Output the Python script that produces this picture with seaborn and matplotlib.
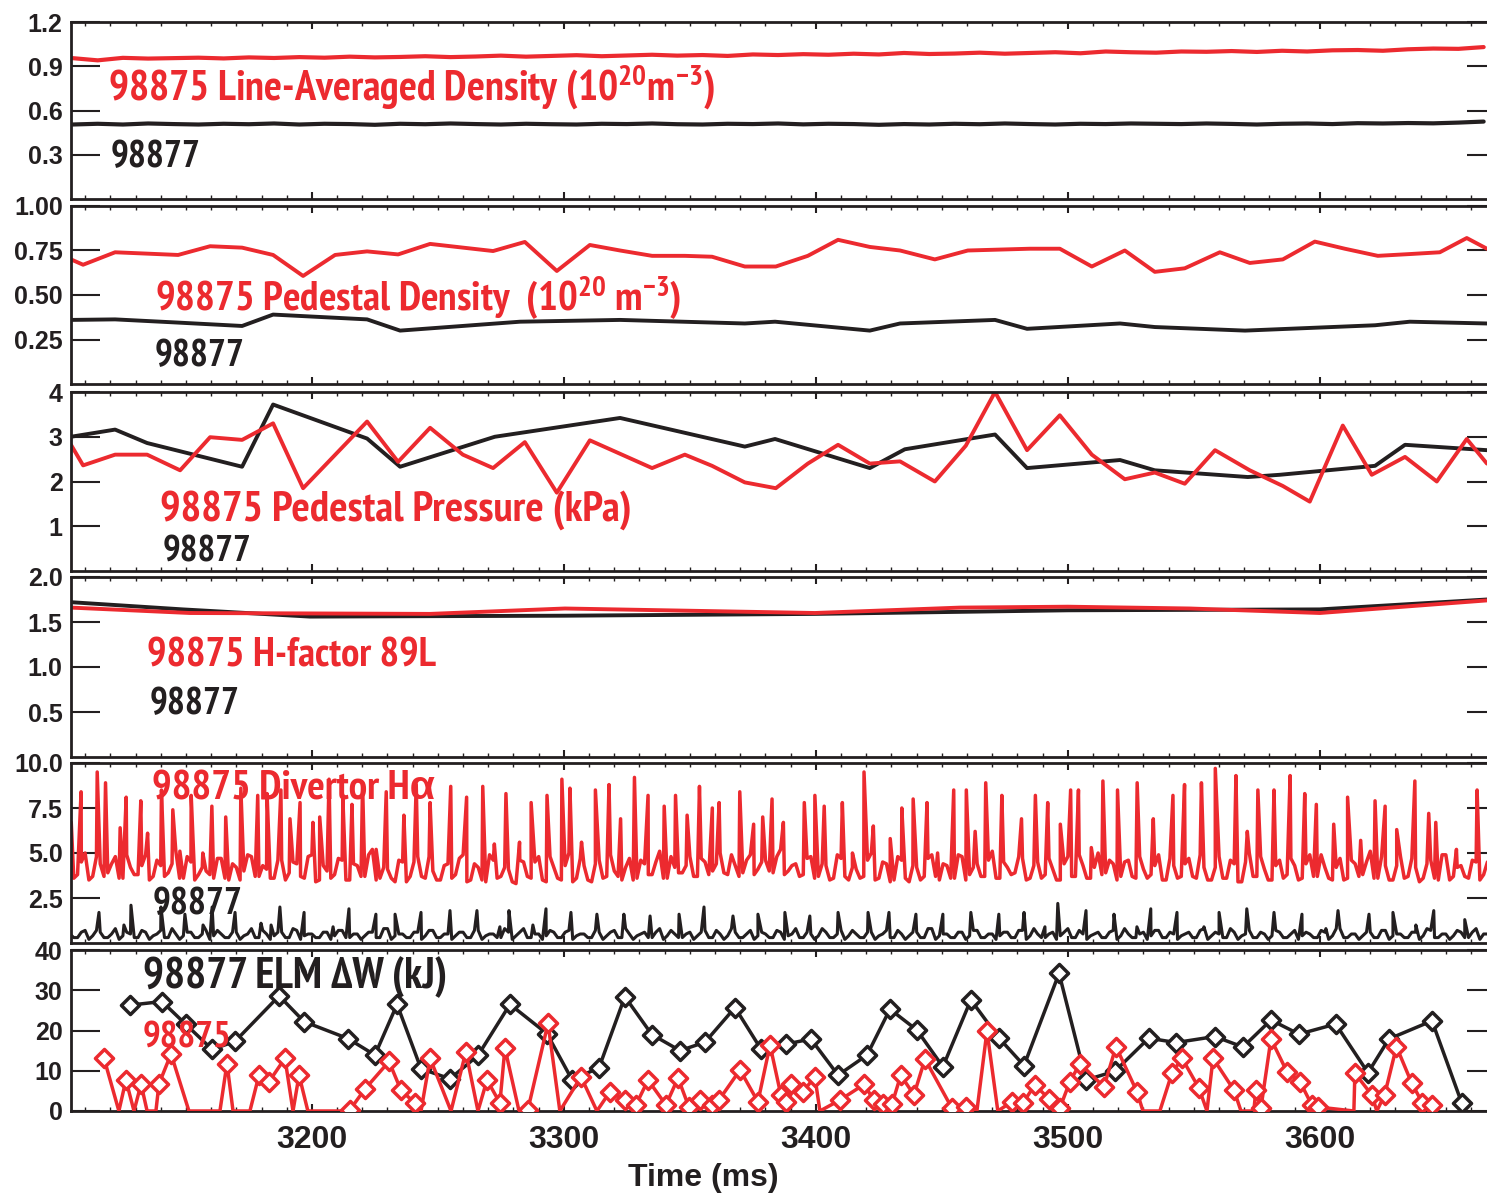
import os
import numpy as np
import matplotlib
matplotlib.use("Agg")
import matplotlib.pyplot as plt
from matplotlib import font_manager as fm
from matplotlib.ticker import MultipleLocator
import seaborn as sns

sns.set_style("white")
TICK_FONT = ["Liberation Sans", "DejaVu Sans"]
plt.rcParams["font.family"] = TICK_FONT
plt.rcParams["mathtext.default"] = "regular"

RED = "#EC2A2F"
BLACK = "#231F20"

# ---------------- Line-averaged density (1e20 m^-3), 10 ms samples
dens_t = np.arange(3105, 3666, 10)
dens_98875 = [0.955, 0.940, 0.957, 0.952, 0.955, 0.958, 0.953, 0.960, 0.956, 0.962,
              0.958, 0.965, 0.960, 0.963, 0.968, 0.962, 0.966, 0.972, 0.965, 0.970,
              0.975, 0.968, 0.973, 0.978, 0.972, 0.976, 0.970, 0.980, 0.976, 0.982,
              0.978, 0.985, 0.980, 0.990, 0.983, 0.986, 0.992, 0.985, 0.990, 0.995,
              0.988, 1.000, 0.995, 0.992, 1.000, 0.998, 1.003, 0.997, 1.005, 1.000,
              1.008, 1.010, 1.005, 1.015, 1.020, 1.018, 1.030]
dens_98877 = [0.505, 0.510, 0.505, 0.512, 0.508, 0.505, 0.510, 0.507, 0.512, 0.505,
              0.510, 0.508, 0.503, 0.510, 0.507, 0.512, 0.508, 0.505, 0.510, 0.507,
              0.505, 0.510, 0.508, 0.512, 0.507, 0.505, 0.510, 0.508, 0.512, 0.506,
              0.510, 0.508, 0.503, 0.508, 0.505, 0.510, 0.507, 0.512, 0.508, 0.505,
              0.510, 0.508, 0.512, 0.510, 0.508, 0.512, 0.509, 0.505, 0.510, 0.512,
              0.508, 0.514, 0.512, 0.515, 0.513, 0.518, 0.525]

# ---------------- Pedestal density (1e20 m^-3)
ped_n_98875_t = [3104.4, 3109.2, 3121.9, 3146.9, 3159.6, 3172.3, 3184.6, 3196.5, 3209.2, 3221.9,
                 3234.2, 3246.9, 3271.9, 3284.5, 3297.2, 3310.3, 3322.3, 3335.0, 3348.0, 3358.8,
                 3371.8, 3384.1, 3396.8, 3408.8, 3421.4, 3433.4, 3447.2, 3460.3, 3484.9, 3496.8,
                 3509.5, 3522.6, 3534.5, 3546.4, 3560.3, 3572.2, 3585.3, 3598.0, 3609.9, 3623.0,
                 3635.7, 3647.6, 3658.3, 3666.3]
ped_n_98875 = [0.70, 0.67, 0.74, 0.725, 0.774, 0.766, 0.725, 0.607, 0.725, 0.745,
               0.728, 0.787, 0.747, 0.798, 0.635, 0.781, 0.75, 0.72, 0.72, 0.715,
               0.66, 0.66, 0.72, 0.81, 0.77, 0.75, 0.70, 0.75, 0.76, 0.76,
               0.66, 0.75, 0.63, 0.65, 0.74, 0.68, 0.70, 0.80, 0.76, 0.72,
               0.73, 0.74, 0.82, 0.76]
ped_n_98877_t = [3104.4, 3121.9, 3146.9, 3172.3, 3184.6, 3221.9, 3235.0, 3282.6, 3322.3, 3371.8,
                 3383.8, 3421.4, 3433.4, 3471.1, 3483.8, 3520.7, 3534.5, 3570.3, 3621.9, 3635.7,
                 3666.3]
ped_n_98877 = [0.36, 0.363, 0.345, 0.326, 0.39, 0.363, 0.30, 0.35, 0.36, 0.34,
               0.35, 0.30, 0.34, 0.36, 0.31, 0.34, 0.32, 0.30, 0.33, 0.35,
               0.34]

# ---------------- Pedestal pressure (kPa)
ped_p_98877_t = [3104.4, 3121.9, 3134.6, 3172.3, 3184.6, 3221.9, 3235.0, 3272.6, 3322.3, 3371.8,
                 3383.8, 3421.4, 3435.3, 3471.1, 3483.8, 3520.7, 3534.5, 3571.4, 3584.1, 3621.9,
                 3633.8, 3666.3]
ped_p_98877 = [3.0, 3.16, 2.86, 2.33, 3.72, 2.96, 2.33, 3.0, 3.42, 2.78,
               2.95, 2.3, 2.72, 3.05, 2.3, 2.48, 2.25, 2.1, 2.15, 2.35,
               2.82, 2.7]
ped_p_98875_t = [3104.4, 3109.2, 3121.9, 3134.6, 3147.7, 3159.6, 3172.3, 3184.6, 3196.5, 3221.9,
                 3234.2, 3246.9, 3259.9, 3271.9, 3284.5, 3297.2, 3310.3, 3335.0, 3348.0, 3358.8,
                 3371.8, 3384.1, 3396.8, 3408.8, 3421.4, 3433.4, 3447.2, 3459.5, 3471.1, 3483.8,
                 3496.8, 3509.5, 3522.6, 3534.5, 3546.4, 3558.4, 3572.2, 3585.3, 3596.0, 3609.1,
                 3620.6, 3633.8, 3646.4, 3658.3, 3666.3]
ped_p_98875 = [2.82, 2.36, 2.6, 2.6, 2.25, 2.99, 2.93, 3.3, 1.85, 3.34,
               2.44, 3.2, 2.6, 2.3, 2.88, 1.75, 2.92, 2.3, 2.6, 2.35,
               1.98, 1.85, 2.4, 2.82, 2.4, 2.45, 2.0, 2.8, 4.0, 2.7,
               3.48, 2.6, 2.05, 2.2, 1.95, 2.7, 2.25, 1.9, 1.55, 3.25,
               2.15, 2.55, 2.0, 2.95, 2.4]

# ---------------- Confinement factor H89L
h89_98877_t = [3104.4, 3148.8, 3199.2, 3300.4, 3399.6, 3500.0, 3600.0, 3666.3]
h89_98877 = [1.72, 1.64, 1.56, 1.57, 1.59, 1.63, 1.64, 1.75]
h89_98875_t = [3104.4, 3151.6, 3246.9, 3300.4, 3399.6, 3457.2, 3500.0, 3548.4, 3600.0, 3666.3]
h89_98875 = [1.66, 1.60, 1.59, 1.65, 1.60, 1.66, 1.67, 1.65, 1.60, 1.74]

# ---------------- Divertor H-alpha
# inter-ELM signal: samples on a 3 ms grid and on the half-way points between them
ha_t = np.arange(3104, 3666, 3)
ha_half_t = ha_t + 1.5
ha_base_98875 = [4.6, 3.8, 5.0, 3.7, 4.4, 3.9, 4.8, 3.6, 4.2, 3.8,
                 4.9, 3.7, 4.3, 3.9, 5.1, 3.6, 4.5, 3.8, 4.0, 3.6,
                 4.7, 3.5, 4.2, 4.0, 4.8, 3.7, 4.1, 3.6, 4.6, 3.9,
                 4.4, 3.6, 4.9, 3.5, 4.0, 3.8, 4.6, 3.5, 4.3, 3.7,
                 5.2, 3.6, 4.1, 3.4, 4.5, 3.7, 4.8, 3.6, 4.0, 3.5,
                 4.4, 3.8, 4.9, 3.5, 4.2, 3.4, 4.6, 3.7, 4.1, 3.3,
                 4.5, 3.6, 4.8, 3.4, 4.2, 3.5, 5.0, 3.6, 4.3, 3.4,
                 4.6, 3.7, 4.0, 3.5, 4.7, 3.6, 4.4, 3.8, 5.1, 3.6,
                 4.2, 3.9, 4.8, 3.7, 4.5, 4.0, 5.0, 3.8, 4.3, 3.9,
                 4.9, 4.1, 4.6, 3.9, 5.2, 4.0, 4.4, 3.8, 4.8, 3.7,
                 4.3, 3.6, 4.7, 3.5, 4.1, 3.7, 5.0, 3.6, 4.4, 3.5,
                 4.6, 3.4, 4.2, 3.7, 4.9, 3.5, 4.3, 3.6, 4.8, 3.8,
                 4.4, 3.7, 5.1, 3.6, 4.2, 3.9, 4.7, 3.6, 4.5, 3.8,
                 4.1, 3.5, 4.8, 3.7, 4.3, 3.6, 5.0, 3.9, 4.4, 3.7,
                 4.6, 3.6, 4.1, 3.8, 4.9, 3.5, 4.3, 3.7, 4.7, 3.6,
                 4.2, 3.5, 4.8, 3.6, 4.4, 3.4, 5.0, 3.7, 4.1, 3.5,
                 4.6, 3.8, 4.3, 3.6, 4.9, 3.7, 4.2, 3.5, 4.7, 3.6,
                 4.4, 3.8, 5.1, 3.6, 4.3, 3.5, 4.8, 3.7, 4.2, 3.6,
                 4.6, 3.5, 4.9, 3.7, 4.3, 3.6, 4.5, 3.8]
ha_half_98875 = [3.6, 4.5, 3.5, 4.8, 3.7, 4.4, 3.6, 4.9, 3.8, 4.3,
                 3.5, 4.6, 3.7, 4.4, 3.6, 4.8, 3.5, 4.2, 3.8, 4.7,
                 3.6, 4.4, 3.5, 4.9, 3.7, 4.3, 3.6, 4.6, 3.5, 4.5,
                 3.7, 4.8, 3.4, 4.3, 3.6, 4.7, 3.5, 4.4, 3.7, 4.9,
                 3.5, 4.2, 3.6, 4.6, 3.4, 4.5, 3.7, 4.8, 3.5, 4.3,
                 3.6, 4.7, 3.4, 4.4, 3.5, 4.9, 3.6, 4.2, 3.4, 4.6,
                 3.7, 4.5, 3.5, 4.8, 3.6, 4.3, 3.4, 4.7, 3.5, 4.4,
                 3.6, 4.9, 3.7, 4.2, 3.5, 4.6, 3.8, 4.5, 3.6, 4.8,
                 3.9, 4.3, 3.7, 4.7, 3.8, 4.4, 3.9, 4.9, 3.7, 4.6,
                 3.8, 4.5, 4.0, 4.8, 3.8, 4.3, 3.7, 4.7, 3.6, 4.4,
                 3.5, 4.9, 3.7, 4.2, 3.6, 4.6, 3.5, 4.5, 3.4, 4.8,
                 3.6, 4.3, 3.5, 4.7, 3.7, 4.4, 3.6, 4.9, 3.5, 4.2,
                 3.7, 4.6, 3.6, 4.5, 3.8, 4.8, 3.5, 4.3, 3.6, 4.7,
                 3.5, 4.4, 3.7, 4.9, 3.6, 4.2, 3.8, 4.6, 3.5, 4.5,
                 3.7, 4.8, 3.6, 4.3, 3.5, 4.7, 3.6, 4.4, 3.7, 4.9,
                 3.5, 4.2, 3.6, 4.6, 3.4, 4.5, 3.7, 4.8, 3.5, 4.3,
                 3.6, 4.7, 3.5, 4.4, 3.7, 4.9, 3.6, 4.2, 3.5, 4.6,
                 3.7, 4.5, 3.6, 4.8, 3.5, 4.3, 3.6, 4.7, 3.4, 4.4,
                 3.6, 4.9, 3.5, 4.2, 3.7, 4.6, 3.5, 4.5]
ha_peak_98875_t = [3104.5, 3108.4, 3114.8, 3118.1, 3123.9, 3126.3, 3132.1, 3134.8, 3140.3, 3144.8,
                   3147.6, 3152.1, 3156.7, 3160.3, 3165.8, 3171.8, 3178.5, 3182.2, 3187.7, 3191.3,
                   3195.3, 3200.4, 3203.1, 3206.8, 3212.3, 3215.9, 3220.1, 3225.5, 3229.5, 3236.5,
                   3241.4, 3246.9, 3255.1, 3261.4, 3267.8, 3272.4, 3277.0, 3282.4, 3287.0, 3293.3,
                   3299.2, 3302.4, 3307.0, 3312.5, 3317.9, 3322.5, 3328.0, 3333.4, 3339.8, 3344.3,
                   3348.9, 3353.8, 3358.9, 3361.6, 3369.8, 3375.3, 3378.9, 3382.6, 3387.1, 3395.4,
                   3399.6, 3403.3, 3410.5, 3414.5, 3419.1, 3422.8, 3429.5, 3434.1, 3438.6, 3444.1,
                   3448.3, 3454.7, 3459.7, 3463.2, 3467.4, 3473.8, 3481.6, 3487.1, 3492.0, 3497.0,
                   3501.1, 3504.2, 3509.3, 3513.9, 3519.7, 3527.5, 3533.9, 3541.7, 3546.3, 3553.0,
                   3558.5, 3566.7, 3571.2, 3575.4, 3581.8, 3588.2, 3594.0, 3598.6, 3605.5, 3611.0,
                   3616.2, 3621.9, 3625.9, 3630.5, 3637.7, 3643.2, 3646.0, 3654.2, 3662.4]
ha_peak_98875 = [6.7, 8.4, 9.5, 8.9, 6.4, 8.1, 7.9, 6.1, 8.5, 7.4,
                 5.1, 8.2, 5.0, 7.6, 7.0, 8.6, 8.2, 8.3, 8.5, 6.9,
                 7.8, 6.7, 7.0, 9.1, 8.0, 7.7, 8.9, 5.2, 8.4, 7.1,
                 8.8, 7.8, 8.7, 8.1, 8.7, 5.5, 8.3, 5.6, 7.8, 8.2,
                 9.1, 8.6, 5.6, 8.5, 8.8, 6.9, 9.2, 8.2, 7.6, 8.2,
                 7.1, 8.7, 7.5, 7.8, 8.4, 6.6, 7.0, 8.0, 6.7, 7.8,
                 8.2, 7.6, 7.8, 5.0, 9.5, 6.5, 5.8, 7.5, 8.0, 7.8,
                 5.0, 8.5, 8.5, 6.2, 8.9, 8.2, 6.9, 8.2, 7.8, 6.6,
                 8.5, 8.5, 5.3, 9.0, 8.5, 8.9, 6.9, 8.2, 8.8, 8.9,
                 9.7, 9.3, 6.2, 8.5, 8.5, 9.3, 8.3, 7.7, 6.6, 8.1,
                 5.7, 7.9, 7.6, 6.3, 9.0, 7.2, 6.7, 5.2, 8.5]
ha_base_98877 = [0.5, 0.3, 0.7, 0.4, 0.6, 0.3, 0.8, 0.4, 0.5, 0.3,
                 0.6, 0.4, 0.7, 0.3, 0.5, 0.4, 0.6, 0.3, 0.7, 0.4,
                 0.5, 0.3, 0.6, 0.4, 0.8, 0.3, 0.5, 0.4, 0.6, 0.3,
                 0.7, 0.4, 0.5, 0.3, 0.6, 0.4, 0.7, 0.3, 0.5, 0.4,
                 0.6, 0.3, 0.8, 0.4, 0.5, 0.3, 0.6, 0.4, 0.7, 0.3,
                 0.5, 0.4, 0.6, 0.3, 0.7, 0.4, 0.5, 0.3, 0.6, 0.4,
                 0.8, 0.3, 0.5, 0.4, 0.6, 0.3, 0.7, 0.4, 0.5, 0.3,
                 0.6, 0.4, 0.7, 0.3, 0.5, 0.4, 0.6, 0.3, 0.8, 0.4,
                 0.5, 0.3, 0.6, 0.4, 0.7, 0.3, 0.5, 0.4, 0.6, 0.3,
                 0.7, 0.4, 0.5, 0.3, 0.6, 0.4, 0.8, 0.3, 0.5, 0.4,
                 0.6, 0.3, 0.7, 0.4, 0.5, 0.3, 0.6, 0.4, 0.7, 0.3,
                 0.5, 0.4, 0.6, 0.3, 0.8, 0.4, 0.5, 0.3, 0.6, 0.4,
                 0.7, 0.3, 0.5, 0.4, 0.6, 0.3, 0.7, 0.4, 0.5, 0.3,
                 0.6, 0.4, 0.8, 0.3, 0.5, 0.4, 0.6, 0.3, 0.7, 0.4,
                 0.5, 0.3, 0.6, 0.4, 0.7, 0.3, 0.5, 0.4, 0.6, 0.3,
                 0.8, 0.4, 0.5, 0.3, 0.6, 0.4, 0.7, 0.3, 0.5, 0.4,
                 0.6, 0.3, 0.7, 0.4, 0.5, 0.3, 0.6, 0.4, 0.8, 0.3,
                 0.5, 0.4, 0.6, 0.3, 0.7, 0.4, 0.5, 0.3, 0.6, 0.4,
                 0.7, 0.3, 0.5, 0.4, 0.6, 0.3, 0.8, 0.5]
ha_half_98877 = [0.3, 0.6, 0.2, 0.7, 0.3, 0.5, 0.2, 0.6, 0.3, 0.7,
                 0.2, 0.5, 0.3, 0.8, 0.2, 0.6, 0.3, 0.5, 0.2, 0.7,
                 0.3, 0.6, 0.2, 0.5, 0.3, 0.7, 0.2, 0.6, 0.3, 0.8,
                 0.2, 0.5, 0.3, 0.6, 0.2, 0.7, 0.3, 0.5, 0.2, 0.6,
                 0.3, 0.8, 0.2, 0.5, 0.3, 0.6, 0.2, 0.7, 0.3, 0.5,
                 0.2, 0.6, 0.3, 0.7, 0.2, 0.5, 0.3, 0.8, 0.2, 0.6,
                 0.3, 0.5, 0.2, 0.7, 0.3, 0.6, 0.2, 0.5, 0.3, 0.7,
                 0.2, 0.6, 0.3, 0.8, 0.2, 0.5, 0.3, 0.6, 0.2, 0.7,
                 0.3, 0.5, 0.2, 0.6, 0.3, 0.7, 0.2, 0.8, 0.3, 0.5,
                 0.2, 0.6, 0.3, 0.7, 0.2, 0.5, 0.3, 0.6, 0.2, 0.8,
                 0.3, 0.5, 0.2, 0.7, 0.3, 0.6, 0.2, 0.5, 0.3, 0.7,
                 0.2, 0.6, 0.3, 0.8, 0.2, 0.5, 0.3, 0.6, 0.2, 0.7,
                 0.3, 0.5, 0.2, 0.6, 0.3, 0.7, 0.2, 0.8, 0.3, 0.5,
                 0.2, 0.6, 0.3, 0.7, 0.2, 0.5, 0.3, 0.6, 0.2, 0.8,
                 0.3, 0.5, 0.2, 0.7, 0.3, 0.6, 0.2, 0.5, 0.3, 0.7,
                 0.2, 0.6, 0.3, 0.8, 0.2, 0.5, 0.3, 0.6, 0.2, 0.7,
                 0.3, 0.5, 0.2, 0.6, 0.3, 0.7, 0.2, 0.8, 0.3, 0.5,
                 0.2, 0.6, 0.3, 0.7, 0.2, 0.5, 0.3, 0.6, 0.2, 0.8,
                 0.3, 0.5, 0.2, 0.7, 0.3, 0.6, 0.2, 0.5]
ha_peak_98877_t = [3115.5, 3125.4, 3128.2, 3140.1, 3149.6, 3156.8, 3160.4, 3169.5, 3179.8, 3183.8,
                   3187.3, 3196.9, 3208.4, 3214.7, 3225.4, 3233.0, 3243.3, 3254.8, 3265.5, 3274.6,
                   3278.2, 3287.7, 3292.9, 3302.8, 3313.1, 3323.8, 3334.2, 3345.7, 3355.6, 3367.1,
                   3377.0, 3387.7, 3397.6, 3408.8, 3420.7, 3429.0, 3439.7, 3450.4, 3461.5, 3472.6,
                   3482.6, 3490.9, 3496.0, 3507.2, 3518.3, 3527.4, 3532.9, 3543.3, 3554.0, 3560.0,
                   3571.0, 3581.8, 3592.9, 3602.4, 3607.2, 3619.5, 3629.0, 3638.1, 3645.2, 3657.5]
ha_peak_98877 = [1.7, 1.0, 2.1, 2.0, 1.6, 1.0, 2.0, 1.7, 1.1, 1.0,
                 2.0, 1.7, 0.9, 1.9, 1.6, 1.6, 1.7, 1.8, 1.8, 0.9,
                 1.8, 1.0, 1.9, 1.7, 1.6, 1.6, 1.5, 1.6, 2.0, 1.5,
                 1.6, 1.7, 1.5, 1.7, 1.7, 1.7, 1.6, 1.6, 1.7, 1.6,
                 1.7, 0.9, 2.2, 1.8, 1.6, 0.9, 1.9, 1.7, 0.9, 1.7,
                 1.9, 1.7, 1.6, 0.8, 1.8, 1.6, 1.7, 1.0, 1.8, 1.3]

# ---------------- ELM energy loss dW (kJ); zero = no ELM detected
elm_98877_t = [3127.8, 3140.5, 3150.0, 3160.4, 3169.5, 3187.0, 3196.9, 3214.3, 3225.0, 3233.8,
               3243.3, 3254.8, 3265.9, 3278.6, 3293.3, 3303.2, 3313.9, 3324.2, 3334.9, 3346.1,
               3356.0, 3367.9, 3378.2, 3388.1, 3398.0, 3408.8, 3420.3, 3429.4, 3440.1, 3450.4,
               3461.5, 3472.7, 3482.6, 3496.5, 3507.2, 3518.7, 3532.1, 3542.9, 3558.3, 3569.5,
               3580.6, 3591.7, 3606.3, 3619.1, 3627.4, 3644.5, 3656.3]
elm_98877 = [26.3, 27.2, 21.5, 15.3, 17.3, 28.6, 22.2, 18.0, 13.9, 26.5,
             10.5, 8.0, 13.8, 26.5, 19.2, 7.8, 10.7, 28.4, 19.0, 15.0,
             17.1, 25.7, 15.4, 16.6, 17.9, 8.9, 13.9, 25.3, 20.1, 11.0,
             27.6, 18.1, 11.3, 34.2, 7.7, 9.9, 18.1, 17.0, 18.5, 15.9,
             22.6, 19.1, 21.6, 9.5, 17.9, 22.4, 2.0]
elm_98875_t = [3117.5, 3123.4, 3126.2, 3129.4, 3132.2, 3134.6, 3138.1, 3139.3, 3144.1, 3151.2,
               3163.5, 3166.3, 3168.7, 3175.4, 3179.0, 3183.0, 3189.3, 3192.5, 3194.9, 3198.4,
               3213.1, 3215.1, 3221.1, 3230.6, 3235.4, 3240.9, 3243.3, 3246.9, 3255.2, 3261.1,
               3265.9, 3269.5, 3274.6, 3276.6, 3282.2, 3285.7, 3293.7, 3298.4, 3306.8, 3313.1,
               3318.3, 3324.2, 3328.6, 3333.4, 3340.5, 3345.3, 3349.6, 3354.0, 3358.8, 3361.5,
               3369.9, 3377.0, 3381.8, 3386.1, 3388.1, 3390.1, 3394.9, 3399.6, 3401.6, 3409.5,
               3419.1, 3423.0, 3426.6, 3430.2, 3433.7, 3438.9, 3443.3, 3454.0, 3459.5, 3463.9,
               3467.9, 3472.2, 3477.8, 3482.2, 3486.9, 3492.5, 3496.8, 3500.8, 3504.8, 3514.3,
               3519.1, 3527.4, 3529.8, 3536.5, 3541.3, 3545.3, 3552.0, 3555.2, 3557.6, 3565.9,
               3568.7, 3573.8, 3574.6, 3576.6, 3580.6, 3586.9, 3592.1, 3596.8, 3599.2, 3613.5,
               3613.9, 3620.6, 3622.6, 3625.7, 3630.4, 3636.4, 3640.7, 3644.7, 3646.7]
elm_98875 = [13.1, 0, 7.7, 0, 6.7, 0, 0, 6.7, 14.2, 0,
             0, 11.8, 0, 0, 8.9, 7.3, 13.1, 0, 8.9, 0,
             0, 0.3, 5.5, 12.3, 5.1, 2.0, 0, 13.1, 0, 14.7,
             0, 7.7, 2.0, 15.6, 0, 0.3, 21.8, 0, 8.5, 0,
             4.8, 2.7, 1.5, 7.7, 1.5, 8.2, 1.0, 2.7, 1.5, 2.7,
             10.2, 2.3, 16.4, 4.0, 2.3, 6.6, 4.8, 8.5, 0, 2.7,
             6.6, 2.7, 1.7, 1.7, 8.9, 4.0, 12.9, 0.7, 1.1, 0,
             19.9, 0, 2.3, 2.0, 6.5, 3.0, 0.7, 7.3, 11.8, 6.0,
             16.0, 4.8, 0, 0, 9.4, 13.1, 5.7, 0, 13.1, 5.2,
             0, 0, 5.2, 0.7, 17.9, 9.8, 7.3, 1.5, 1.0, 0,
             9.4, 4.0, 0, 4.0, 16.0, 7.0, 2.0, 1.5, 0]

# ---------------- axis setup
panel_ylim = [(0, 1.2), (0, 1.0), (0, 4), (0, 2), (0, 10), (0, 40)]
panel_yticks = [[0.3, 0.6, 0.9, 1.2], [0.25, 0.5, 0.75, 1.0], [1, 2, 3, 4],
                [0.5, 1.0, 1.5, 2.0], [2.5, 5.0, 7.5, 10.0], [0, 10, 20, 30, 40]]
panel_yticklabels = [["0.3", "0.6", "0.9", "1.2"], ["0.25", "0.50", "0.75", "1.00"],
                     ["1", "2", "3", "4"], ["0.5", "1.0", "1.5", "2.0"],
                     ["2.5", "5.0", "7.5", "10.0"], ["0", "10", "20", "30", "40"]]
xticks = [3200, 3300, 3400, 3500, 3600]
xticklabels = ["3200", "3300", "3400", "3500", "3600"]
XLIM = (3104.4, 3669.9)

_WEIGHTS = {"bold": 700, "heavy": 800, "black": 900, "extra bold": 800,
            "semibold": 600, "demibold": 600}


def condensed_bold_font():
    """Bold narrow/condensed face for the panel captions, with fallbacks for
    glyphs (Greek letters) that the condensed face may not carry."""
    best = None
    for f in fm.fontManager.ttflist:
        try:
            wnum = int(f.weight)
        except (TypeError, ValueError):
            wnum = _WEIGHTS.get(str(f.weight).lower(), 400)
        if wnum < 700 or f.style != "normal":
            continue
        tag = " ".join([f.name, str(f.stretch), os.path.basename(f.fname)]).lower()
        if "semi" in tag or "extra" in tag or "ultra" in tag:
            rank = 3
        elif "narrow" in tag:
            rank = 0
        elif "condensed" in tag:
            rank = 1
        else:
            continue
        rank += (wnum - 700) / 1000.0
        if best is None or rank < best[0]:
            best = (rank, f.name, wnum, f.stretch)
    if best is not None:
        _, name, wnum, stretch = best
        return fm.FontProperties(family=[name, "Liberation Sans", "DejaVu Sans"],
                                 weight=wnum, stretch=stretch)
    return fm.FontProperties(family=["Liberation Sans", "DejaVu Sans"], weight="bold")


CAPTION_PROP = condensed_bold_font()

W, H = 1487, 1199
fig = plt.figure(figsize=(W / 100, H / 100), dpi=100)
left_px, right_px = 71, 1496
panel_px = [(22, 199), (206, 384), (392, 571), (577, 757), (763, 943), (950, 1111)]
axes = []
for top, bot in panel_px:
    ax = fig.add_axes([left_px / W, 1 - bot / H, (right_px - left_px) / W, (bot - top) / H])
    axes.append(ax)


def line(ax, t, v, color, lw, z=2):
    sns.lineplot(x=np.asarray(t, float), y=np.asarray(v, float), ax=ax, color=color,
                 lw=lw, estimator=None, sort=False, errorbar=None, legend=False, zorder=z)


def merged(*pairs):
    t = np.concatenate([np.asarray(p[0], float) for p in pairs])
    v = np.concatenate([np.asarray(p[1], float) for p in pairs])
    order = np.argsort(t, kind="stable")
    return t[order], v[order]


# panel 1
line(axes[0], dens_t, dens_98877, BLACK, 3.0)
line(axes[0], dens_t, dens_98875, RED, 3.0)
# panel 2
line(axes[1], ped_n_98877_t, ped_n_98877, BLACK, 2.8)
line(axes[1], ped_n_98875_t, ped_n_98875, RED, 2.8)
# panel 3
line(axes[2], ped_p_98877_t, ped_p_98877, BLACK, 2.8)
line(axes[2], ped_p_98875_t, ped_p_98875, RED, 2.8)
# panel 4
line(axes[3], h89_98877_t, h89_98877, BLACK, 2.8)
line(axes[3], h89_98875_t, h89_98875, RED, 2.8)
# panel 5
bt, bv = merged((ha_t, ha_base_98877), (ha_half_t, ha_half_98877),
                (ha_peak_98877_t, ha_peak_98877))
line(axes[4], bt, bv, BLACK, 2.2)
rt, rv = merged((ha_t, ha_base_98875), (ha_half_t, ha_half_98875),
                (ha_peak_98875_t, ha_peak_98875))
line(axes[4], rt, rv, RED, 2.5)
# panel 6
ax6 = axes[5]
line(ax6, elm_98877_t, elm_98877, BLACK, 2.5)
sns.scatterplot(x=np.asarray(elm_98877_t), y=np.asarray(elm_98877), ax=ax6, marker="D", s=85,
                color="white", edgecolor=BLACK, linewidth=2.5, zorder=3, legend=False)
line(ax6, elm_98875_t, elm_98875, RED, 2.5, z=4)
e5t = np.asarray(elm_98875_t)
e5v = np.asarray(elm_98875)
hit = e5v > 0
sns.scatterplot(x=e5t[hit], y=e5v[hit], ax=ax6, marker="D", s=85, color="white",
                edgecolor=RED, linewidth=2.5, zorder=5, legend=False)

for i, ax in enumerate(axes):
    ax.set_xlim(*XLIM)
    ax.set_ylim(*panel_ylim[i])
    ax.set_xlabel("")
    ax.set_ylabel("")
    for sp in ax.spines.values():
        sp.set_linewidth(2.0)
        sp.set_color(BLACK)
        sp.set_visible(True)
    ax.set_yticks(panel_yticks[i])
    ax.set_yticklabels(panel_yticklabels[i], fontsize=18, fontweight="bold", family=TICK_FONT,
                       color=BLACK)
    ax.tick_params(axis="y", which="major", direction="in", length=21, width=1.5,
                   left=True, right=True, pad=6, colors=BLACK)
    ax.set_xticks(xticks)
    ax.xaxis.set_minor_locator(MultipleLocator(10))
    ax.tick_params(axis="x", which="major", direction="in", length=5, width=1.5,
                   top=True, bottom=True, colors=BLACK)
    ax.tick_params(axis="x", which="minor", direction="in", length=3, width=1.0,
                   top=True, bottom=True, colors=BLACK)
    if i < 5:
        ax.tick_params(axis="x", labelbottom=False)
    else:
        ax.set_xticklabels(xticklabels, fontsize=23, fontweight="bold", family=TICK_FONT)
        ax.tick_params(axis="x", which="major", pad=10)
    ax.patch.set_alpha(0)

fig.text(703 / W, 1 - 1178 / H, "Time (ms)", ha="center", va="center", fontsize=23,
         fontweight="bold", family=TICK_FONT, color=BLACK)

# panel captions: (panel, x, y in axes fraction, text, colour, width in px)
captions = [
    (0, 0.026, 0.632, "98875 Line-Averaged Density (10$^{20}$m$^{-3}$)", RED, 608),
    (0, 0.028, 0.232, "98877", BLACK, 90),
    (1, 0.059, 0.488, "98875 Pedestal Density  (10$^{20}$ m$^{-3}$)", RED, 528),
    (1, 0.059, 0.152, "98877", BLACK, 90),
    (2, 0.0625, 0.341, "98875 Pedestal Pressure (kPa)", RED, 472),
    (2, 0.064, 0.106, "98877", BLACK, 89),
    (3, 0.053, 0.561, "98875 H-factor 89L", RED, 290),
    (3, 0.0554, 0.294, "98877", BLACK, 90),
    (4, 0.057, 0.855, "98875 Divertor H\u03b1", RED, 283),
    (4, 0.0575, 0.211, "98877", BLACK, 90),
    (5, 0.0505, 0.832, "98877 ELM \u0394W (kJ)", BLACK, 304),
    (5, 0.0505, 0.453, "98875", RED, 89),
]
texts = []
for i, x, y, s, c, wpx in captions:
    prop = CAPTION_PROP.copy()
    prop.set_size(28.5)
    t = axes[i].text(x, y, s, transform=axes[i].transAxes, ha="left", va="center",
                     fontproperties=prop, color=c, zorder=10)
    texts.append((t, wpx))

# size each caption so that it spans its intended width
fig.canvas.draw()
renderer = fig.canvas.get_renderer()
for t, wpx in texts:
    w = t.get_window_extent(renderer).width
    if w > 0:
        t.set_fontsize(t.get_fontsize() * wpx / w)

fig.savefig("out.png", dpi=100)
